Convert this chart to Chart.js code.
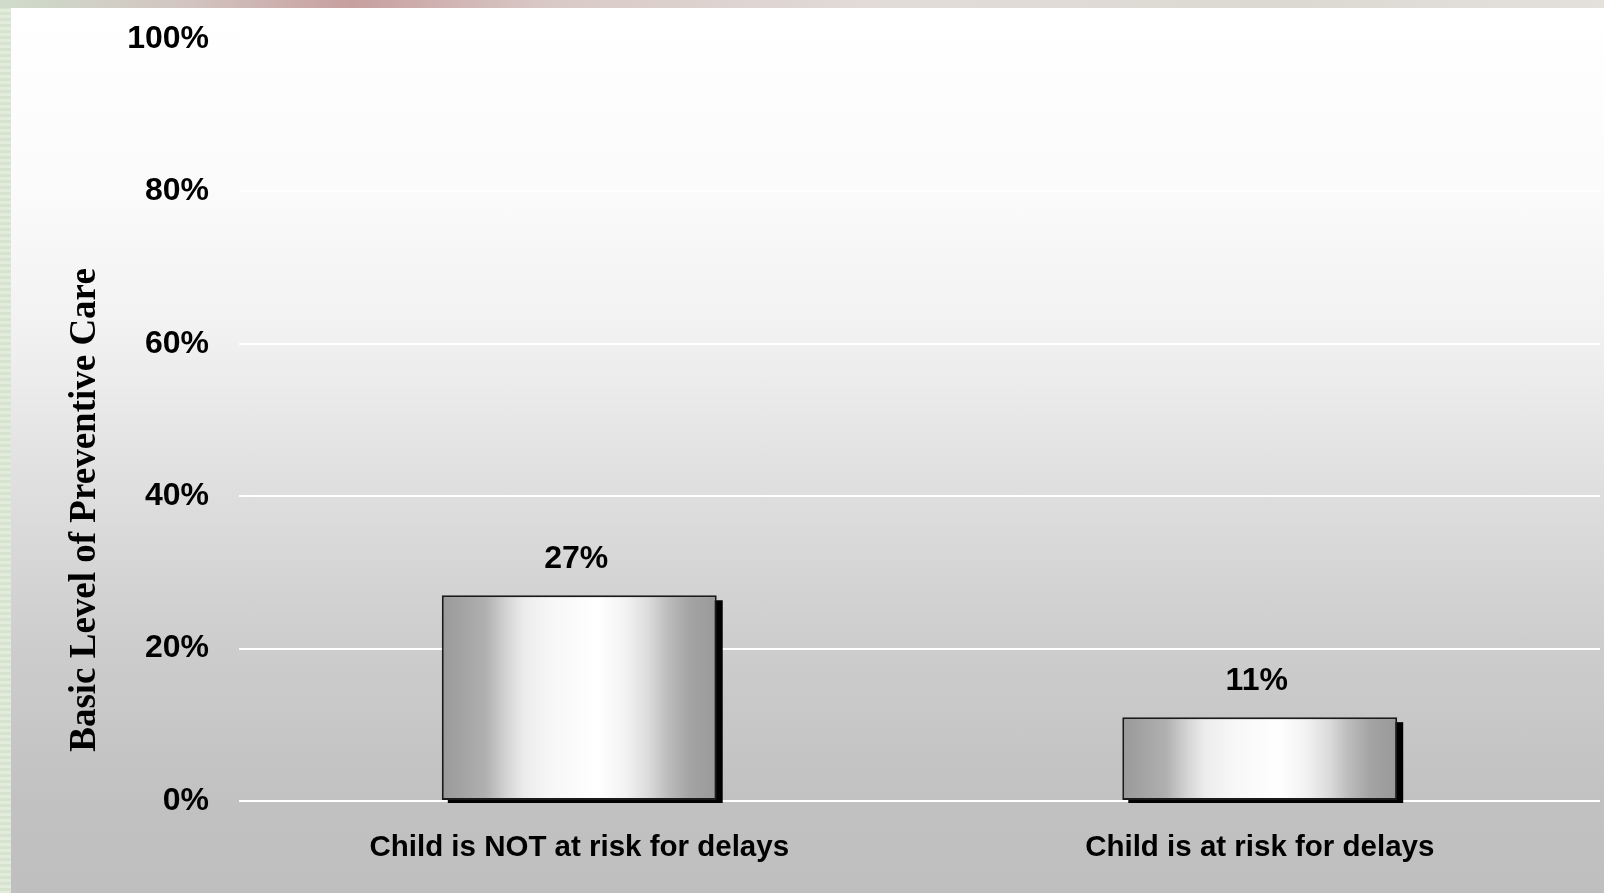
<!DOCTYPE html>
<html>
<head>
<meta charset="utf-8">
<script src="https://cdn.jsdelivr.net/npm/chart.js@4"></script>
<style>
  html, body { margin: 0; padding: 0; }
  body {
    width: 1604px; height: 893px; overflow: hidden; position: relative;
    background: repeating-linear-gradient(180deg, #d6e3cf 0px, #d6e3cf 3px, #e2ebdc 3px, #e2ebdc 6px);
  }
  #top {
    position: absolute; left: 0; top: 0; width: 1604px; height: 8px;
    background: linear-gradient(90deg, #cfdccb 0%, #d2c4c0 12%, #c79f9f 22%, #d9c9c6 34%, #e2dcd8 55%, #dcd9d2 80%, #e4e0dc 100%);
  }
  #panel {
    position: absolute; left: 11px; top: 8px; width: 1593px; height: 885px;
    background: linear-gradient(180deg, #ffffff 0%, #fbfbfb 20%, #f1f1f1 37%, #dedede 55%, #cdcdcd 72%, #c1c1c1 90%, #bfbfbf 100%);
  }
</style>
</head>
<body>
<div id="top"></div>
<div id="panel"><canvas id="chart" width="1593" height="885"></canvas></div>
<script>
const categories = ["Child is NOT at risk for delays", "Child is at risk for delays"];
const values = [27, 11];
const yTicks = [0, 20, 40, 60, 80, 100];
const yTitle = "Basic Level of Preventive Care";

const barFrac = 0.404;

function barGradient(ctx) {
  const chart = ctx.chart;
  const xs = chart.scales.x;
  if (!xs || !chart.chartArea) return "#cccccc";
  const cx = xs.getPixelForValue(ctx.dataIndex);
  const half = (xs.width / categories.length) * barFrac / 2;
  const g = chart.ctx.createLinearGradient(cx - half, 0, cx + half, 0);
  g.addColorStop(0, "#999999");
  g.addColorStop(0.16, "#b0b0b0");
  g.addColorStop(0.24, "#d6d6d6");
  g.addColorStop(0.30, "#ececec");
  g.addColorStop(0.40, "#f7f7f7");
  g.addColorStop(0.57, "#ffffff");
  g.addColorStop(0.67, "#f2f2f2");
  g.addColorStop(0.75, "#dcdcdc");
  g.addColorStop(0.82, "#bdbdbd");
  g.addColorStop(0.90, "#a4a4a4");
  g.addColorStop(1, "#999999");
  return g;
}

// black drop shadow behind the bars
const barShadow = {
  id: "barShadow",
  beforeDatasetsDraw(chart) {
    const c = chart.ctx;
    c.save();
    c.fillStyle = "#000";
    chart.getDatasetMeta(0).data.forEach(bar => {
      const p = bar.getProps(["x", "y", "base", "width"], true);
      c.fillRect(p.x - p.width / 2 + 6, p.y + 5, p.width, p.base - p.y - 2);
    });
    c.restore();
  }
};

// value labels and rotated axis title
const extras = {
  id: "extras",
  afterDraw(chart) {
    const c = chart.ctx;
    c.save();
    c.fillStyle = "#000";
    c.font = "bold 32px 'Liberation Sans', Arial, sans-serif";
    c.textAlign = "center";
    c.textBaseline = "middle";
    chart.getDatasetMeta(0).data.forEach((bar, i) => {
      c.fillText(values[i] + "%", bar.x - 3, bar.y - 36);
    });
    c.translate(74, 502);
    c.rotate(-Math.PI / 2);
    c.font = "bold 37px 'Liberation Serif', 'Times New Roman', serif";
    c.fillText(yTitle, 0, 0);
    c.restore();
  }
};

new Chart(document.getElementById("chart"), {
  type: "bar",
  data: {
    labels: categories,
    datasets: [{
      data: values,
      backgroundColor: barGradient,
      borderColor: "#1a1a1a",
      borderWidth: 2,
      borderSkipped: false,
      categoryPercentage: 1,
      barPercentage: barFrac
    }]
  },
  options: {
    responsive: false,
    animation: false,
    layout: { padding: { top: 31, right: 4, bottom: 0, left: 0 } },
    plugins: { legend: { display: false }, tooltip: { enabled: false } },
    scales: {
      x: {
        grid: { display: false, drawTicks: false },
        border: { display: false },
        ticks: {
          color: "#000",
          padding: 29,
          font: { family: "'Liberation Sans', Arial, sans-serif", size: 29.5, weight: "bold" }
        },
        afterFit(s) { s.height = 92; }
      },
      y: {
        min: 0,
        max: 100,
        afterBuildTicks(s) { s.ticks = yTicks.map(v => ({ value: v })); },
        grid: { color: "#ffffff", lineWidth: 2, drawTicks: false },
        border: { display: false },
        ticks: {
          color: "#000",
          padding: 30,
          font: { family: "'Liberation Sans', Arial, sans-serif", size: 32, weight: "bold" },
          callback: v => v + "%"
        },
        afterFit(s) { s.width = 228; s.paddingTop = 0; s.paddingBottom = 0; }
      }
    }
  },
  plugins: [barShadow, extras]
});
</script>
</body>
</html>
